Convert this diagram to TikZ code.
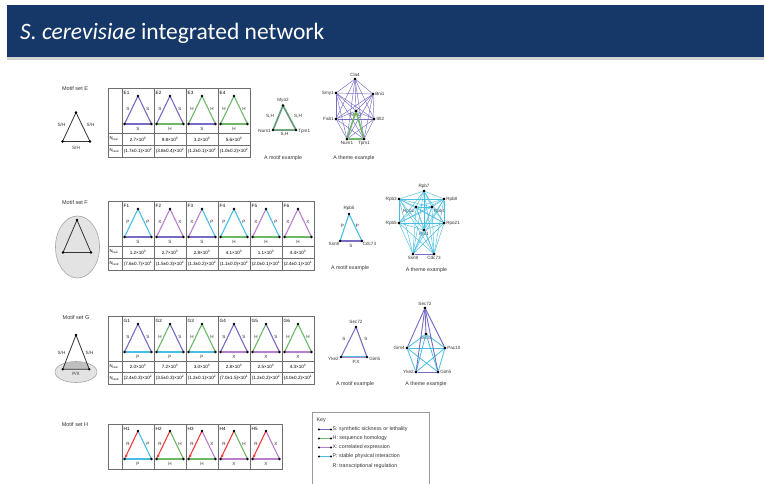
\documentclass[tikz,border=0pt]{standalone}
\usepackage{fontspec}
\setmainfont{Liberation Sans}
\newfontfamily\titlefont{Carlito}
\usetikzlibrary{arrows.meta}
\definecolor{navy}{RGB}{22,56,104}
\definecolor{cS}{RGB}{118,108,196}
\definecolor{cH}{RGB}{108,184,104}
\definecolor{cX}{RGB}{184,128,204}
\definecolor{cP}{RGB}{72,190,226}
\definecolor{cR}{RGB}{240,60,60}
\definecolor{gridc}{RGB}{110,110,110}
\newcommand\fs[1]{\fontsize{#1}{#1}\selectfont}
\tikzset{
  edge/.style={line width=1.1pt},
  cellname/.style={anchor=west, font=\fs{4.6}, inner sep=0},
  elbl/.style={font=\fs{4.6}, inner sep=0, text=black!80},
  val/.style={font=\fs{4.6}, inner sep=0},
  hdr/.style={font=\fs{4.2}, inner sep=0, anchor=west},
  gridline/.style={draw=gridc, line width=0.8pt},
  vdot/.style={circle, fill=black, inner sep=0, minimum size=2.6pt},
  nlbl/.style={font=\fs{4.6}, inner sep=0.6pt, text=black!80},
  capt/.style={font=\fs{5.3}, inner sep=0, text=black!80},
  setlbl/.style={font=\fs{5.5}, inner sep=0, text=black!80},
  icon/.style={draw=black!80, line width=0.8pt},
  thin/.style={line width=0.45pt},
}
% name, left x, top y, left type, right type, bottom type
\newcommand\motifcell[6]{%
  \coordinate (#1a) at (#2+16,#3+8);
  \coordinate (#1b) at (#2+2.5,#3+36);
  \coordinate (#1c) at (#2+29.5,#3+36);
  \node[cellname] (#1n) at (#2+1.5,#3+5) {#1};
  \draw[edge,draw=c#6] (#1b) -- (#1c);
  \draw[edge,draw=c#4] (#1a) -- (#1b);
  \draw[edge,draw=c#5] (#1a) -- (#1c);
  \node[elbl] (#1l) at (#2+6,#3+21) {#4};
  \node[elbl] (#1r) at (#2+26,#3+21) {#5};
  \node[elbl] (#1m) at (#2+16,#3+41) {#6};
  \fill (#1a) circle (1.3); \fill (#1b) circle (1.3); \fill (#1c) circle (1.3);
}
% name, left x, top y, right type, bottom type
\newcommand\regcell[5]{%
  \coordinate (#1a) at (#2+16,#3+7);
  \coordinate (#1b) at (#2+2.5,#3+35);
  \coordinate (#1c) at (#2+29.5,#3+35);
  \node[cellname] (#1n) at (#2+1.5,#3+5) {#1};
  \draw[edge,draw=c#5] (#1b) -- (#1c);
  \draw[edge,draw=c#4] (#1a) -- (#1c);
  \draw[edge,draw=cR,-{Stealth[length=3.5pt,width=3pt]},shorten >=1pt] (#1a) -- (#1b);
  \node[elbl] (#1l) at (#2+6,#3+20) {R};
  \node[elbl] (#1r) at (#2+26,#3+20) {#4};
  \node[elbl] (#1m) at (#2+16,#3+40) {#5};
  \fill (#1a) circle (1.3); \fill (#1b) circle (1.3); \fill (#1c) circle (1.3);
}
\newcommand\tn[2]{#1×10\textsuperscript{#2}}
\newcommand\tr[3]{(#1±#2)×10\textsuperscript{#3}}
\begin{document}
\begin{tikzpicture}[x=1pt,y=-1pt]
\useasboundingbox (0,0) rectangle (764,483);
\fill[white] (0,0) rectangle (764,483);
% title bar
\fill[navy] (7,5) rectangle (764,57);
\fill[gray!35] (7,57) rectangle (764,60);
\node[anchor=base west, text=white, font=\titlefont\fs{23.5}, inner sep=0] (title) at (20,39) {\textit{S. cerevisiae} integrated network};

% ===== Motif set E =====
\node[setlbl] (setE) at (75,89) {Motif set E};
\coordinate (iEa) at (76,112.5); \coordinate (iEb) at (62.5,141.5); \coordinate (iEc) at (90,141.5);
\draw[icon] (iEa) -- (iEb) -- (iEc) -- cycle;
\foreach \p in {iEa,iEb,iEc} \fill (\p) circle (1.3);
\node[elbl] (iEl) at (61.5,125) {S/H};
\node[elbl] (iEr) at (90.5,125) {S/H};
\node[elbl] (iEm) at (76,147.5) {S/H};

\draw[gridline] (108,88) rectangle (250,157);
\foreach \x in {122,154,186,218} \draw[gridline] (\x,88) -- (\x,157);
\draw[gridline] (108,133) -- (250,133);
\draw[gridline] (108,145) -- (250,145);
\motifcell{E1}{122}{88}{S}{S}{S}
\motifcell{E2}{154}{88}{S}{S}{H}
\motifcell{E3}{186}{88}{H}{H}{S}
\motifcell{E4}{218}{88}{H}{H}{H}
\node[hdr] (Ehr) at (109.5,139) {N\textsubscript{real}};
\node[hdr] (Ehd) at (109.5,151) {N\textsubscript{rand}};
\node[val] (Er1) at (138,139) {\tn{2.7}{3}};
\node[val] (Er2) at (170,139) {\tn{9.8}{3}};
\node[val] (Er3) at (202,139) {\tn{3.2}{3}};
\node[val] (Er4) at (234,139) {\tn{5.6}{3}};
\node[val] (Ed1) at (138,151) {\tr{1.7}{0.1}{2}};
\node[val] (Ed2) at (170,151) {\tr{3.8}{0.4}{2}};
\node[val] (Ed3) at (202,151) {\tr{1.2}{0.1}{2}};
\node[val] (Ed4) at (234,151) {\tr{1.0}{0.2}{2}};

% motif example E
\coordinate (mEa) at (283,105.5); \coordinate (mEb) at (273,130); \coordinate (mEc) at (296,130);
\draw[cH, line width=1.8pt] (mEa) -- (mEb) -- (mEc) -- cycle;
\draw[cS, line width=0.5pt] (mEa) -- (mEb) -- (mEc) -- cycle;
\foreach \p in {mEa,mEb,mEc} \fill (\p) circle (1.3);
\node[nlbl, anchor=south] (mEan) at (283,103) {Myo2};
\node[nlbl, anchor=east] (mEbn) at (271.5,131) {Num1};
\node[nlbl, anchor=west] (mEcn) at (297.5,131) {Tpm1};
\node[elbl] (mEl) at (270,116.5) {S,H};
\node[elbl] (mEr) at (298,116.5) {S,H};
\node[elbl] (mEm) at (284.5,134.5) {S,H};
\node[capt] (capE1) at (283,158) {A motif example};

% theme example E
\node[vdot, label={[nlbl]above:Cla4}] (tCla) at (355,79) {};
\node[vdot, label={[nlbl]left:Smy1}] (tSmy) at (336,93) {};
\node[vdot, label={[nlbl]right:Bni1}] (tBni) at (373,94) {};
\node[vdot, label={[nlbl]below:Myo2}] (tMyo) at (356,111) {};
\node[vdot, label={[nlbl]left:Fab1}] (tFab) at (336,119) {};
\node[vdot, label={[nlbl]right:Slt2}] (tSlt) at (374,119) {};
\node[vdot, label={[nlbl]below:Num1}] (tNum) at (347,139) {};
\node[vdot, label={[nlbl]below:Tpm1}] (tTpm) at (364,139) {};
\begin{scope}[on background layer/.try]
\foreach \a [count=\i] in {tCla,tSmy,tBni,tMyo,tFab,tSlt,tNum,tTpm}{
  \foreach \b [count=\j] in {tCla,tSmy,tBni,tMyo,tFab,tSlt,tNum,tTpm}{
    \ifnum\j>\i \draw[cS, thin] (\a) -- (\b); \fi
  }
}
\end{scope}
\draw[cH, line width=1.6pt] (tMyo) -- (tNum) -- (tTpm) -- (tMyo);
\foreach \p in {tCla,tSmy,tBni,tMyo,tFab,tSlt,tNum,tTpm} \fill (\p) circle (1.3);
\node[capt] (capE2) at (354,158) {A theme example};

% ===== Motif set F =====
\node[setlbl] (setF) at (75,203) {Motif set F};
\draw[fill=gray!22, draw=gray!70, line width=0.6pt] (77.5,247) ellipse [x radius=22, y radius=31];
\coordinate (iFa) at (77,220); \coordinate (iFb) at (63,252.5); \coordinate (iFc) at (91,252.5);
\draw[icon] (iFa) -- (iFb) -- (iFc) -- cycle;
\foreach \p in {iFa,iFb,iFc} \fill (\p) circle (1.3);

\draw[gridline] (108,201) rectangle (314,270);
\foreach \x in {122,154,186,218,250,282} \draw[gridline] (\x,201) -- (\x,270);
\draw[gridline] (108,246) -- (314,246);
\draw[gridline] (108,258) -- (314,258);
\motifcell{F1}{122}{201}{P}{P}{S}
\motifcell{F2}{154}{201}{X}{X}{S}
\motifcell{F3}{186}{201}{X}{P}{S}
\motifcell{F4}{218}{201}{P}{P}{H}
\motifcell{F5}{250}{201}{X}{P}{H}
\motifcell{F6}{282}{201}{X}{X}{H}
\node[hdr] (Fhr) at (109.5,252) {N\textsubscript{real}};
\node[hdr] (Fhd) at (109.5,264) {N\textsubscript{rand}};
\node[val] (Fr1) at (138,252) {\tn{1.2}{3}};
\node[val] (Fr2) at (170,252) {\tn{2.7}{3}};
\node[val] (Fr3) at (202,252) {\tn{2.8}{3}};
\node[val] (Fr4) at (234,252) {\tn{4.1}{3}};
\node[val] (Fr5) at (266,252) {\tn{1.1}{3}};
\node[val] (Fr6) at (298,252) {\tn{4.4}{3}};
\node[val] (Fd1) at (138,264) {\tr{7.6}{0.7}{1}};
\node[val] (Fd2) at (170,264) {\tr{1.5}{0.3}{2}};
\node[val] (Fd3) at (202,264) {\tr{1.3}{0.2}{2}};
\node[val] (Fd4) at (234,264) {\tr{1.1}{0.0}{2}};
\node[val] (Fd5) at (266,264) {\tr{2.0}{0.1}{1}};
\node[val] (Fd6) at (298,264) {\tr{2.4}{0.1}{1}};

% motif example F
\coordinate (mFa) at (349,214); \coordinate (mFb) at (340,241); \coordinate (mFc) at (362,241);
\draw[cS, line width=1.1pt] (mFb) -- (mFc);
\draw[cP, line width=1.1pt] (mFb) -- (mFa) -- (mFc);
\foreach \p in {mFa,mFb,mFc} \fill (\p) circle (1.3);
\node[nlbl, anchor=south] (mFan) at (349,211.5) {Rpb5};
\node[nlbl, anchor=north east] (mFbn) at (340,241) {Ssn8};
\node[nlbl, anchor=north west] (mFcn) at (362,241) {Cdc73};
\node[elbl] (mFl) at (342.5,226) {P};
\node[elbl] (mFr) at (357.5,226) {P};
\node[elbl] (mFm) at (351,246) {S};
\node[capt] (capF1) at (350,268) {A motif example};

% theme example F
\node[vdot, label={[nlbl]above:Rpb7}] (fR7) at (424,191) {};
\node[vdot, label={[nlbl]left:Rpb3}] (fR3) at (399,199) {};
\node[vdot, label={[nlbl]right:Rpb8}] (fR8) at (444,199) {};
\node[vdot, label={[nlbl]below left:Rpb2}] (fR2) at (416,207) {};
\node[vdot, label={[nlbl]below right:Rpb4}] (fR4) at (432,207) {};
\node[vdot, label={[nlbl]left:Rpb5}] (fR5) at (399,223) {};
\node[vdot, label={[nlbl]right:Rpo21}] (fR21) at (444,223) {};
\node[vdot, label={[nlbl]below:Paf1}] (fCt) at (424,230) {};
\node[vdot, label={[nlbl]below:Ssn8}] (fSn) at (413,254) {};
\node[vdot, label={[nlbl]below:Cdc73}] (fCd) at (434,254) {};
\foreach \a [count=\i] in {fR7,fR3,fR8,fR2,fR4,fR5,fR21,fCt,fSn,fCd}{
  \foreach \b [count=\j] in {fR7,fR3,fR8,fR2,fR4,fR5,fR21,fCt,fSn,fCd}{
    \ifnum\j>\i \draw[cP, thin] (\a) -- (\b); \fi
  }
}
\draw[cS, line width=0.9pt] (fSn) -- (fCd);
\foreach \p in {fR7,fR3,fR8,fR2,fR4,fR5,fR21,fCt,fSn,fCd} \fill (\p) circle (1.3);
\node[capt] (capF2) at (426.5,270) {A theme example};

% ===== Motif set G =====
\node[setlbl] (setG) at (76,318) {Motif set G};
\draw[fill=gray!22, draw=gray!70, line width=0.6pt] (76,372) ellipse [x radius=21, y radius=10.5];
\coordinate (iGa) at (76,335); \coordinate (iGb) at (62.7,369.3); \coordinate (iGc) at (89.3,369.3);
\fill[gray!50] (65.5,362) -- (86.5,362) -- (iGc) -- (iGb) -- cycle;
\draw[icon] (iGa) -- (iGb) -- (iGc) -- cycle;
\foreach \p in {iGa,iGb,iGc} \fill (\p) circle (1.3);
\node[elbl] (iGl) at (61.5,353) {S/H};
\node[elbl] (iGr) at (89.5,353) {S/H};
\node[elbl] (iGm) at (76,374) {P/X};

\draw[gridline] (108,316) rectangle (314,384);
\foreach \x in {122,154,186,218,250,282} \draw[gridline] (\x,316) -- (\x,384);
\draw[gridline] (108,361) -- (314,361);
\draw[gridline] (108,372.5) -- (314,372.5);
\motifcell{G1}{122}{316}{S}{S}{P}
\motifcell{G2}{154}{316}{H}{S}{P}
\motifcell{G3}{186}{316}{H}{H}{P}
\motifcell{G4}{218}{316}{S}{S}{X}
\motifcell{G5}{250}{316}{H}{S}{X}
\motifcell{G6}{282}{316}{H}{H}{X}
\node[hdr] (Ghr) at (109.5,366.7) {N\textsubscript{real}};
\node[hdr] (Ghd) at (109.5,378.2) {N\textsubscript{rand}};
\node[val] (Gr1) at (138,366.7) {\tn{2.0}{3}};
\node[val] (Gr2) at (170,366.7) {\tn{7.2}{3}};
\node[val] (Gr3) at (202,366.7) {\tn{3.0}{3}};
\node[val] (Gr4) at (234,366.7) {\tn{2.8}{3}};
\node[val] (Gr5) at (266,366.7) {\tn{2.5}{3}};
\node[val] (Gr6) at (298,366.7) {\tn{4.3}{3}};
\node[val] (Gd1) at (138,378.2) {\tr{2.4}{0.3}{2}};
\node[val] (Gd2) at (170,378.2) {\tr{3.5}{0.3}{2}};
\node[val] (Gd3) at (202,378.2) {\tr{1.2}{0.1}{2}};
\node[val] (Gd4) at (234,378.2) {\tr{7.0}{1.5}{1}};
\node[val] (Gd5) at (266,378.2) {\tr{1.2}{0.2}{2}};
\node[val] (Gd6) at (298,378.2) {\tr{4.0}{0.2}{1}};

% motif example G
\coordinate (mGa) at (356,327); \coordinate (mGb) at (341,357); \coordinate (mGc) at (367,357);
\draw[cP, line width=1.5pt] (mGb) -- (mGc);
\draw[cX, line width=0.5pt] (mGb) -- (mGc);
\draw[cS, line width=1.1pt] (mGb) -- (mGa) -- (mGc);
\foreach \p in {mGa,mGb,mGc} \fill (\p) circle (1.3);
\node[nlbl, anchor=south] (mGan) at (356,324.5) {Sec72};
\node[nlbl, anchor=east] (mGbn) at (339.5,359) {Yke2};
\node[nlbl, anchor=west] (mGcn) at (368.5,359) {Gim5};
\node[elbl] (mGl) at (344,339) {S};
\node[elbl] (mGr) at (366,339) {S};
\node[elbl] (mGm) at (356,362) {P,X};
\node[capt] (capG1) at (355,384) {A motif example};

% theme example G
\node[vdot, label={[nlbl]above:Sec72}] (gSec) at (425,308) {};
\node[vdot, label={[nlbl]below:Gim3}] (gG3) at (426,334) {};
\node[vdot, label={[nlbl]left:Gim4}] (gG4) at (407,348) {};
\node[vdot, label={[nlbl]right:Pac10}] (gPac) at (445,348) {};
\node[vdot, label={[nlbl]left:Yke2}] (gYke) at (416,372) {};
\node[vdot, label={[nlbl]right:Gim5}] (gG5) at (438,372) {};
\foreach \a [count=\i] in {gG3,gG4,gPac,gYke,gG5}{
  \foreach \b [count=\j] in {gG3,gG4,gPac,gYke,gG5}{
    \ifnum\j>\i \draw[cP, line width=0.8pt] (\a) -- (\b); \fi
  }
}
\foreach \b in {gG3,gG4,gPac,gYke,gG5} \draw[cS, line width=0.9pt] (gSec) -- (\b);
\draw[cS, line width=0.9pt] (gYke) -- (gG5);
\foreach \p in {gSec,gG3,gG4,gPac,gYke,gG5} \fill (\p) circle (1.3);
\node[capt] (capG2) at (426,384) {A theme example};

% ===== Motif set H =====
\node[setlbl] (setH) at (75,425) {Motif set H};
\draw[gridline] (108,424) rectangle (282,469);
\foreach \x in {122,154,186,218,250} \draw[gridline] (\x,424) -- (\x,469);
\regcell{H1}{122}{424}{P}{P}
\regcell{H2}{154}{424}{H}{H}
\regcell{H3}{186}{424}{X}{H}
\regcell{H4}{218}{424}{H}{X}
\regcell{H5}{250}{424}{X}{X}

% ===== Key =====
\draw[draw=gray!80, line width=0.7pt] (312,412) rectangle (429,490);
\node[anchor=west, font=\fs{5.3}, inner sep=0, text=black!80] (key) at (316.5,420) {Key};
\foreach \c/\t/\y [count=\k] in {cS/S: synthetic sickness or lethality/429.5,
                               cH/H: sequence homology/438.5,
                               cX/X: correlated expression/447.5,
                               cP/P: stable physical interaction/456.5}{
  \coordinate (k\k a) at (319,\y);
  \coordinate (k\k b) at (331,\y);
  \draw[\c, line width=0.9pt] (k\k a) -- (k\k b);
  \fill (k\k a) circle (1.1); \fill (k\k b) circle (1.1);
  \node[anchor=west, font=\fs{5.3}, inner sep=0, text=black!80] (k\k t) at (332.5,\y) {\t};
}
\node[anchor=west, font=\fs{5.3}, inner sep=0, text=black!80] (k5t) at (332.5,466) {R: transcriptional regulation};
\end{tikzpicture}
\end{document}
